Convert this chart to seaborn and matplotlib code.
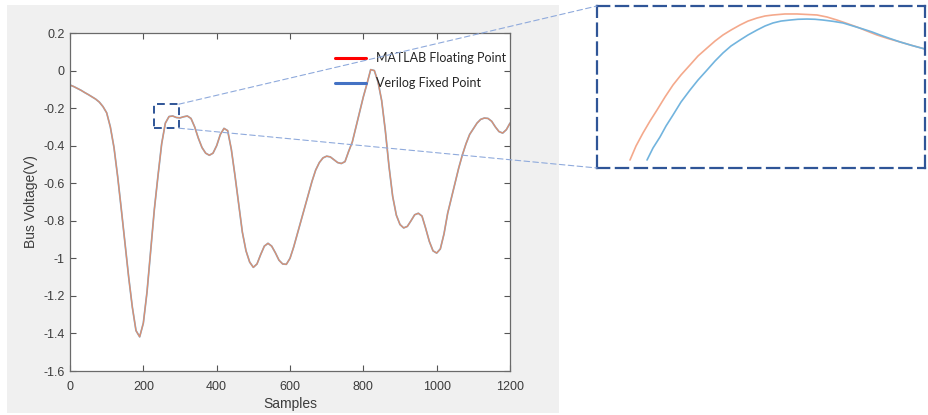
import numpy as np
import pandas as pd
import matplotlib
matplotlib.use("Agg")
import matplotlib.pyplot as plt
import seaborn as sns
from matplotlib.lines import Line2D
from matplotlib.patches import Rectangle, ConnectionPatch

# ---------------- data ----------------
samples = list(range(0, 1201, 10))
matlab_float = [
    -0.077, -0.085, -0.095, -0.105, -0.117, -0.128, -0.140, -0.152, -0.168, -0.192,   # 0-90
    -0.225, -0.300, -0.410, -0.565, -0.740, -0.920, -1.100, -1.260, -1.385, -1.418,   # 100-190
    -1.345, -1.180, -0.960, -0.740, -0.560, -0.390, -0.280, -0.245, -0.242, -0.250,   # 200-290
    -0.252, -0.246, -0.242, -0.255, -0.300, -0.360, -0.410, -0.440, -0.451, -0.440,   # 300-390
    -0.400, -0.340, -0.308, -0.320, -0.420, -0.560, -0.710, -0.860, -0.960, -1.020,   # 400-490
    -1.048, -1.030, -0.980, -0.935, -0.920, -0.935, -0.970, -1.010, -1.030, -1.032,   # 500-590
    -1.000, -0.940, -0.870, -0.800, -0.730, -0.660, -0.590, -0.530, -0.490, -0.465,   # 600-690
    -0.456, -0.460, -0.475, -0.490, -0.495, -0.485, -0.430, -0.380, -0.300, -0.220,   # 700-790
    -0.140, -0.070, 0.005, 0.000, -0.060, -0.160, -0.320, -0.510, -0.670, -0.770,     # 800-890
    -0.820, -0.838, -0.830, -0.800, -0.768, -0.760, -0.775, -0.840, -0.910, -0.960,   # 900-990
    -0.972, -0.950, -0.870, -0.760, -0.680, -0.600, -0.520, -0.450, -0.390, -0.340,   # 1000-1090
    -0.310, -0.280, -0.260, -0.253, -0.255, -0.270, -0.300, -0.325, -0.333, -0.315,   # 1100-1190
    -0.280,                                                                           # 1200
]
verilog_fixed = list(matlab_float)  # overlaps the floating-point curve at this scale

# magnified view (inset) of the box x 229-297, y -0.307..-0.179
zoom_x_range = [229, 297]
zoom_y_range = [-0.307, -0.179]
zoom_s_matlab = [235.84, 237.09, 238.54, 239.99, 241.44, 243.10, 244.76, 246.41, 248.28,
                 249.94, 251.81, 253.46, 255.12, 256.78, 258.65, 260.31, 262.17, 263.83,
                 265.49, 267.98, 270.46, 272.54, 274.61, 276.68, 278.76, 280.83, 282.90,
                 284.98, 287.05, 289.33, 291.82, 294.31, 297.00]
zoom_v_matlab = [-0.3007, -0.2896, -0.2793, -0.2699, -0.2612, -0.2509, -0.2414, -0.2335, -0.2256,
                 -0.2185, -0.2122, -0.2067, -0.2019, -0.1980, -0.1940, -0.1909, -0.1885, -0.1869,
                 -0.1861, -0.1853, -0.1853, -0.1857, -0.1861, -0.1877, -0.1901, -0.1928, -0.1956,
                 -0.1988, -0.2019, -0.2047, -0.2074, -0.2102, -0.2130]
zoom_s_verilog = [239.37, 240.61, 242.06, 243.31, 244.76, 246.41, 248.28, 249.94, 251.81,
                  253.46, 255.12, 256.78, 258.65, 260.31, 262.17, 263.83, 265.49, 267.15,
                  269.01, 270.67, 272.54, 274.20, 275.85, 277.93, 280.00, 282.07, 284.15,
                  286.01, 287.67, 289.74, 291.82, 294.31, 297.00]
zoom_v_verilog = [-0.3007, -0.2912, -0.2825, -0.2738, -0.2651, -0.2549, -0.2454, -0.2375, -0.2296,
                  -0.2225, -0.2161, -0.2106, -0.2059, -0.2019, -0.1980, -0.1948, -0.1924, -0.1909,
                  -0.1901, -0.1895, -0.1893, -0.1895, -0.1901, -0.1911, -0.1924, -0.1948, -0.1972,
                  -0.1995, -0.2019, -0.2047, -0.2074, -0.2102, -0.2130]

x_ticks = [0, 200, 400, 600, 800, 1000, 1200]
y_ticks = [-1.6, -1.4, -1.2, -1, -0.8, -0.6, -0.4, -0.2, 0, 0.2]
y_tick_labels = ["-1.6", "-1.4", "-1.2", "-1", "-0.8", "-0.6", "-0.4", "-0.2", "0", "0.2"]
legend_labels = ["MATLAB Floating Point", "Verilog Fixed Point"]

# ---------------- styling ----------------
sns.set_theme(style="white")
plt.rcParams["font.family"] = ["Liberation Sans", "DejaVu Sans"]
plt.rcParams["axes.unicode_minus"] = False

W, H = 929, 415
fig = plt.figure(figsize=(W / 100, H / 100), dpi=100, facecolor="white")

def fx(px):
    return px / W

def fy(py):
    return 1 - py / H

# MATLAB grey figure panel
fig.patches.append(Rectangle((fx(7), fy(413)), fx(559) - fx(7), fy(5) - fy(413),
                             transform=fig.transFigure, facecolor="#f0f0f0",
                             edgecolor="none", zorder=-10))

ax = fig.add_axes([fx(70), fy(371), fx(510) - fx(70), fy(33) - fy(371)])
ax.set_facecolor("white")
ax.set_zorder(1)

df = pd.DataFrame({"Samples": samples, "matlab": matlab_float, "verilog": verilog_fixed})
sns.lineplot(data=df, x="Samples", y="verilog", ax=ax, color="#7ab4dc", lw=1.25, sort=False)
sns.lineplot(data=df, x="Samples", y="matlab", ax=ax, color="#dc8f70", lw=0.95, sort=False)

ax.set_xlim(0, 1200)
ax.set_ylim(-1.6, 0.2)
ax.set_xticks(x_ticks)
ax.set_xticklabels([str(t) for t in x_ticks])
ax.set_yticks(y_ticks)
ax.set_yticklabels(y_tick_labels)
ax.tick_params(direction="in", length=4, width=0.8, color="#555555",
               top=True, right=True, bottom=True, left=True,
               labelsize=9, labelcolor="#3c3c3c")
ax.tick_params(axis="x", pad=7)
ax.tick_params(axis="y", pad=4)
for sp in ax.spines.values():
    sp.set_visible(True)
    sp.set_color("#6a6a6a")
    sp.set_linewidth(0.9)
ax.set_xlabel("Samples", fontsize=10, color="#3c3c3c", labelpad=3)
ax.set_ylabel("Bus Voltage(V)", fontsize=10, color="#3c3c3c", labelpad=4)

# legend
handles = [Line2D([], [], color="#ff0000", lw=2.2),
           Line2D([], [], color="#4472c4", lw=2.2)]
ax.legend(handles, legend_labels, loc="upper left",
          bbox_to_anchor=(fx(335), fy(52)), bbox_transform=fig.transFigure,
          frameon=False, borderpad=0, borderaxespad=0,
          handlelength=2.5, handletextpad=0.8, labelspacing=1.05,
          prop={"family": ["Lato", "DejaVu Sans"], "size": 9})

# zoom box on the main chart
ax.add_patch(Rectangle((zoom_x_range[0], zoom_y_range[0]),
                       zoom_x_range[1] - zoom_x_range[0], zoom_y_range[1] - zoom_y_range[0],
                       fill=False, edgecolor="#2f5597", lw=1.4, ls=(0, (4, 2.5)), zorder=5))

# inset (magnified view)
axi = fig.add_axes([fx(597), fy(168), fx(925) - fx(597), fy(6) - fy(168)])
axi.set_facecolor("white")
axi.set_zorder(1)
sns.lineplot(x=zoom_s_matlab, y=zoom_v_matlab, ax=axi, color="#f4a98c", lw=1.2, sort=False)
sns.lineplot(x=zoom_s_verilog, y=zoom_v_verilog, ax=axi, color="#72b4de", lw=1.2, sort=False)
axi.set_xlim(*zoom_x_range)
axi.set_ylim(*zoom_y_range)
axi.set_xticks([])
axi.set_yticks([])
axi.set_xlabel("")
axi.set_ylabel("")
for sp in axi.spines.values():
    sp.set_visible(True)
    sp.set_color("#2f5597")
    sp.set_linewidth(1.6)
    sp.set_linestyle((0, (5.5, 3)))

# connector lines
for (xa, ya), (xb, yb) in [((zoom_x_range[1], zoom_y_range[1]), (0, 1)),
                           ((zoom_x_range[1], zoom_y_range[0]), (0, 0))]:
    con = ConnectionPatch(xyA=(xa, ya), coordsA=ax.transData,
                          xyB=(xb, yb), coordsB=axi.transAxes,
                          color="#8faadc", lw=0.8, ls=(0, (5, 3)), zorder=6)
    fig.add_artist(con)

fig.savefig("out.png", dpi=100, facecolor="white")
